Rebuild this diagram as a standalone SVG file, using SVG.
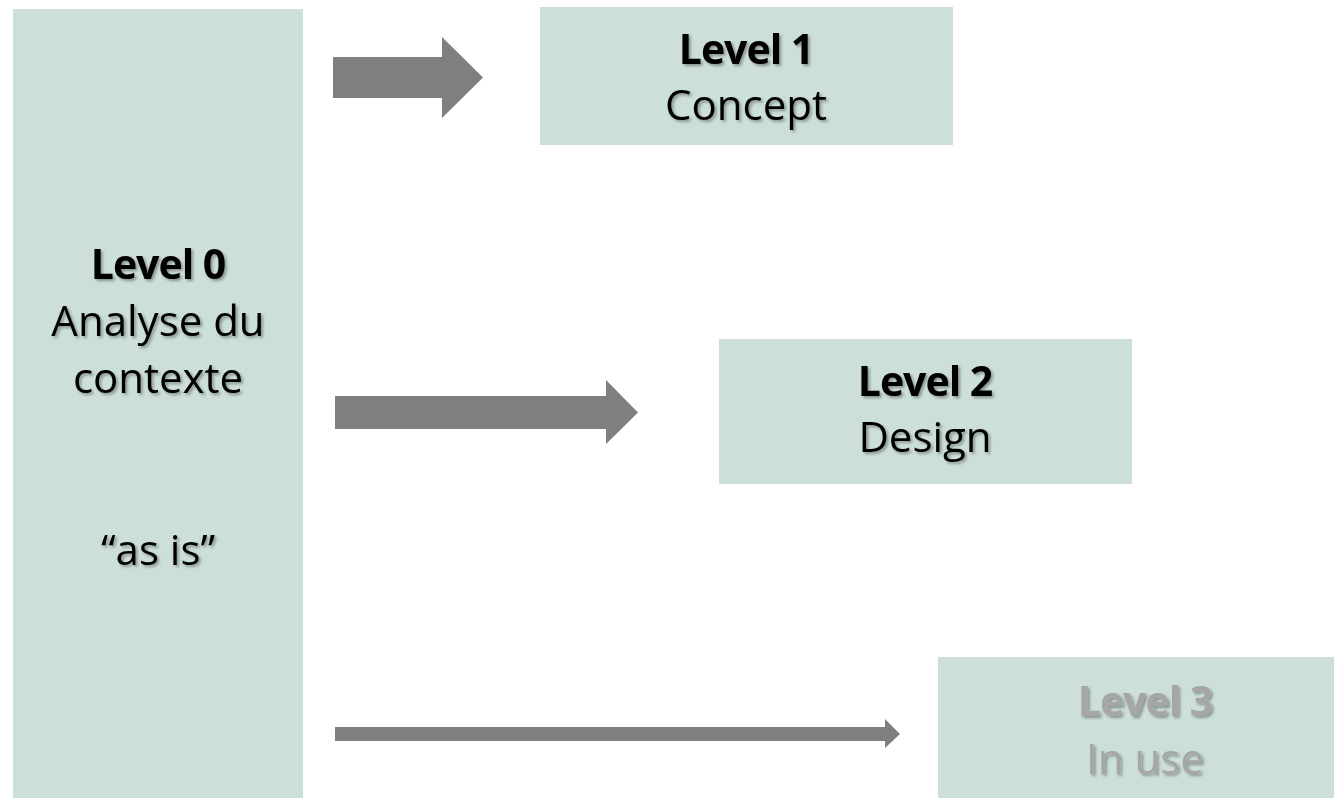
<svg xmlns="http://www.w3.org/2000/svg" width="1334" height="798" viewBox="0 0 1334 798">
  <defs>
    <filter id="shadow" x="-10%" y="-30%" width="120%" height="160%">
      <feDropShadow dx="2" dy="2" stdDeviation="1.5" flood-color="#000000" flood-opacity="0.35"/>
    </filter>
  </defs>
  <style>
    .box { fill: #CDE0D7; }
    .arrow { fill: #7F7F7F; }
    .t { font-family: "Open Sans", "Noto Sans", "Liberation Sans", sans-serif; font-size: 42px; text-anchor: middle; fill: #000000; filter: url(#shadow); }
    .b { font-size: 41px; font-weight: bold; letter-spacing: -1px; }
    .dim { fill: #A6A6A6; }
  </style>
  <rect width="1334" height="798" fill="#FFFFFF"/>

  <g id="level0">
    <rect class="box" x="13" y="9" width="290" height="789"/>
    <text class="t b" x="158" y="279">Level 0</text>
    <text class="t" x="158" y="336">Analyse du</text>
    <text class="t" x="158" y="393">contexte</text>
    <text class="t" x="158" y="565">“as is”</text>
  </g>

  <g id="level1">
    <rect class="box" x="540" y="7" width="413" height="138"/>
    <text class="t b" x="746" y="64">Level 1</text>
    <text class="t" x="746" y="120">Concept</text>
  </g>

  <g id="level2">
    <rect class="box" x="719" y="339" width="413" height="145"/>
    <text class="t b" x="925" y="396">Level 2</text>
    <text class="t" x="925" y="452">Design</text>
  </g>

  <g id="level3">
    <rect class="box" x="938" y="657" width="413" height="145"/>
    <text class="t b dim" x="1145" y="716">Level 3</text>
    <text class="t dim" x="1145" y="774">In use</text>
  </g>

  <g id="connectors">
    <polygon class="arrow" points="333,57 442,57 442,37 483,77.5 442,118 442,98 333,98"/>
    <polygon class="arrow" points="335,396 606,396 606,380 638,412.5 606,444 606,429 335,429"/>
    <polygon class="arrow" points="335,727 885,727 885,719 900,734 885,748 885,741 335,741"/>
  </g>
</svg>
